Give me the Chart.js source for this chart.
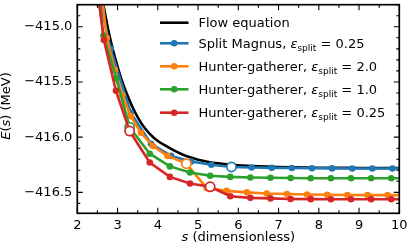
<!DOCTYPE html>
<html>
<head>
<meta charset="utf-8">
<script src="https://cdn.jsdelivr.net/npm/chart.js@4.4.1/dist/chart.umd.min.js"></script>
<style>
html, body { margin: 0; padding: 0; background: #fff; }
#wrap { width: 408px; height: 252px; }
</style>
</head>
<body>
<div id="wrap"><canvas id="chart" width="408" height="252"></canvas></div>
<script>
// flow equation (smooth reference curve)
var flowS = [2.5, 2.6, 2.7, 2.8, 2.9, 3.0, 3.1, 3.2, 3.4, 3.6, 3.8, 4.0, 4.2, 4.4, 4.6, 4.8, 5.0, 5.2, 5.5, 6.0, 6.5, 7.0, 8.0, 9.0, 10.0];
var flowE = [-414.52, -414.71, -414.90, -415.08, -415.23, -415.36, -415.48, -415.58, -415.75, -415.88, -415.97, -416.035, -416.08, -416.12, -416.155, -416.182, -416.204, -416.22, -416.238, -416.255, -416.265, -416.271, -416.277, -416.279, -416.28];

// split Magnus, eps = 0.25
var magS = [2.33, 2.83, 3.33, 3.83, 4.33, 4.83, 5.33, 5.83, 6.33, 6.83, 7.33, 7.83, 8.33, 8.83, 9.33, 9.83, 10.33];
var magE = [-414.40, -415.20, -415.78, -416.06, -416.17, -416.22, -416.25, -416.27, -416.275, -416.278, -416.28, -416.282, -416.283, -416.284, -416.284, -416.284, -416.284];
var magOpen = [5.83];

// hunter-gatherer, eps = 2.0
var hg2S = [2.5, 2.73, 2.93, 3.12, 3.33, 3.58, 3.88, 4.24, 4.71, 5.21, 5.71, 6.21, 6.71, 7.21, 7.71, 8.21, 8.71, 9.21, 9.71, 10.21];
var hg2E = [-414.35, -415.10, -415.39, -415.62, -415.81, -415.96, -416.08, -416.17, -416.24, -416.46, -416.487, -416.50, -416.51, -416.515, -416.52, -416.522, -416.524, -416.525, -416.525, -416.525];
var hg2Open = [4.71];

// hunter-gatherer, eps = 1.0
var hg1S = [2.35, 2.65, 2.97, 3.3, 3.8, 4.3, 4.8, 5.3, 5.8, 6.3, 6.8, 7.3, 7.8, 8.3, 8.8, 9.3, 9.8, 10.3];
var hg1E = [-414.25, -415.08, -415.47, -415.91, -416.15, -416.265, -416.32, -416.35, -416.36, -416.365, -416.368, -416.37, -416.372, -416.373, -416.373, -416.373, -416.373, -416.373];
var hg1Open = [3.3];

// hunter-gatherer, eps = 0.25
var hg025S = [2.36, 2.66, 2.96, 3.3, 3.8, 4.3, 4.8, 5.3, 5.8, 6.3, 6.8, 7.3, 7.8, 8.3, 8.8, 9.3, 9.8, 10.3];
var hg025E = [-414.25, -415.12, -415.58, -415.945, -416.23, -416.36, -416.42, -416.45, -416.535, -416.55, -416.555, -416.56, -416.562, -416.563, -416.563, -416.563, -416.563, -416.563];
var hg025Open = [3.3, 5.3];

var seriesNames = ['Flow equation', 'Split Magnus, ', 'Hunter-gatherer, ', 'Hunter-gatherer, ', 'Hunter-gatherer, '];
var epsLabels = [null, '0.25', '2.0', '1.0', '0.25'];
var colors = ['#000000', '#1f77b4', '#ff7f0e', '#2ca02c', '#d62728'];

var xTicks = [2, 3, 4, 5, 6, 7, 8, 9, 10];
var yTicks = [-416.5, -416.0, -415.5, -415.0];

var FONT = '"DejaVu Sans", sans-serif';

function pts(s, e) {
	return s.map(function(v, i) { return { x: v, y: e[i] }; });
}

function isOpen(c, list) {
	return c.raw && list.indexOf(c.raw.x) >= 0;
}

function series(i, s, e, openList) {
	var color = colors[i];
	return {
		label: seriesNames[i] + (epsLabels[i] ? 'εsplit = ' + epsLabels[i] : ''),
		data: pts(s, e),
		borderColor: color,
		borderWidth: 2.6,
		order: 5 - i,
		pointRadius: function(c) { return isOpen(c, openList) ? 4.6 : 3.3; },
		pointBackgroundColor: function(c) { return isOpen(c, openList) ? '#fff' : color; },
		pointBorderColor: color,
		pointBorderWidth: function(c) { return isOpen(c, openList) ? 1.7 : 0; }
	};
}

// text pieces: [text, style] where style is '', 'i' or 'sub'
function richWidth(ctx, parts) {
	var w = 0;
	parts.forEach(function(p) {
		ctx.font = (p[1] === 'i' ? 'italic ' : '') + (p[1] === 'sub' ? 9 : 13) + 'px ' + FONT;
		w += ctx.measureText(p[0]).width;
	});
	return w;
}

function rich(ctx, parts, x, y) {
	var cx = x;
	parts.forEach(function(p) {
		ctx.font = (p[1] === 'i' ? 'italic ' : '') + (p[1] === 'sub' ? 9 : 13) + 'px ' + FONT;
		ctx.fillText(p[0], cx, y + (p[1] === 'sub' ? 3 : 0));
		cx += ctx.measureText(p[0]).width;
	});
}

function noPad(s) {
	s.paddingTop = 0;
	s.paddingBottom = 0;
	s.paddingLeft = 0;
	s.paddingRight = 0;
}

var framePlugin = {
	id: 'frame',
	afterDatasetsDraw: function(chart) {
		var ctx = chart.ctx;
		var a = chart.chartArea;
		var xs = chart.scales.x, ys = chart.scales.y;
		ctx.save();
		ctx.strokeStyle = '#000';
		ctx.lineWidth = 1.1;
		ctx.beginPath();
		for (var k = 0; k <= 16; k++) {
			var xv = 2 + k * 0.5;
			var len = (k % 2 === 0) ? 5.5 : 3;
			var px = xs.getPixelForValue(xv);
			ctx.moveTo(px, a.bottom); ctx.lineTo(px, a.bottom - len);
			ctx.moveTo(px, a.top); ctx.lineTo(px, a.top + len);
		}
		for (var j = 0; j <= 18; j++) {
			var yv = -416.6 + j * 0.1;
			if (yv > -414.8 + 1e-6) { continue; }
			var major = Math.abs(yv * 2 - Math.round(yv * 2)) < 1e-6;
			var l2 = major ? 5.5 : 3;
			var py = ys.getPixelForValue(yv);
			ctx.moveTo(a.left, py); ctx.lineTo(a.left + l2, py);
			ctx.moveTo(a.right, py); ctx.lineTo(a.right - l2, py);
		}
		ctx.stroke();
		ctx.lineWidth = 1.7;
		ctx.strokeRect(a.left, a.top, a.right - a.left, a.bottom - a.top);
		ctx.restore();
	},
	afterDraw: function(chart) {
		var ctx = chart.ctx;
		var a = chart.chartArea;
		ctx.save();
		ctx.fillStyle = '#000';
		ctx.textBaseline = 'alphabetic';

		// x axis title
		var xt = [['s', 'i'], [' (dimensionless)', '']];
		var w = richWidth(ctx, xt);
		rich(ctx, xt, (a.left + a.right) / 2 - w / 2, 241);

		// y axis title
		var yt = [['E', 'i'], ['(', ''], ['s', 'i'], [')', ''], [' (MeV)', '']];
		var wy = richWidth(ctx, yt);
		ctx.save();
		ctx.translate(10, (a.top + a.bottom) / 2 - 3);
		ctx.rotate(-Math.PI / 2);
		rich(ctx, yt, -wy / 2, 0);
		ctx.restore();

		// legend
		var rows = [22.7, 43.3, 66.3, 89.3, 112.7];
		for (var i = 0; i < rows.length; i++) {
			var y = rows[i];
			ctx.strokeStyle = colors[i];
			ctx.lineWidth = 2.6;
			ctx.beginPath();
			ctx.moveTo(160, y); ctx.lineTo(188.5, y);
			ctx.stroke();
			if (i > 0) {
				ctx.fillStyle = colors[i];
				ctx.beginPath();
				ctx.arc(174.2, y, 3.3, 0, Math.PI * 2);
				ctx.fill();
			}
			ctx.fillStyle = '#000';
			var parts = [[seriesNames[i], '']];
			if (epsLabels[i]) {
				parts.push(['ε', 'i'], ['split', 'sub'], [' = ' + epsLabels[i], '']);
			}
			rich(ctx, parts, 198.5, y + 4.5);
		}
		ctx.restore();
	}
};

var chart = new Chart(document.getElementById('chart'), {
	type: 'line',
	data: {
		datasets: [
			{
				label: seriesNames[0],
				data: pts(flowS, flowE),
				borderColor: colors[0],
				borderWidth: 2.6,
				cubicInterpolationMode: 'monotone',
				pointRadius: 0,
				order: 5
			},
			series(1, magS, magE, magOpen),
			series(2, hg2S, hg2E, hg2Open),
			series(3, hg1S, hg1E, hg1Open),
			series(4, hg025S, hg025E, hg025Open)
		]
	},
	options: {
		responsive: false,
		devicePixelRatio: 1,
		animation: false,
		layout: { padding: { top: 4.7, right: 8.7, left: 0, bottom: 0 } },
		plugins: {
			legend: { display: false },
			tooltip: { enabled: false }
		},
		scales: {
			x: {
				type: 'linear',
				min: 2,
				max: 10,
				afterBuildTicks: function(s) { s.ticks = xTicks.map(function(v) { return { value: v }; }); },
				ticks: {
					font: { family: FONT, size: 13 },
					color: '#000',
					padding: 5,
					maxRotation: 0,
					autoSkip: false,
					callback: function(v) { return String(v); }
				},
				grid: { display: false, drawTicks: false },
				border: { display: false },
				afterFit: function(s) { s.height = 38.7; noPad(s); }
			},
			y: {
				type: 'linear',
				min: -416.69,
				max: -414.8,
				afterBuildTicks: function(s) { s.ticks = yTicks.map(function(v) { return { value: v }; }); },
				ticks: {
					font: { family: FONT, size: 13 },
					color: '#000',
					padding: 5,
					autoSkip: false,
					callback: function(v) { return (v < 0 ? '\u2212' : '') + Math.abs(v).toFixed(1); }
				},
				grid: { display: false, drawTicks: false },
				border: { display: false },
				afterFit: function(s) { s.width = 77.3; noPad(s); }
			}
		}
	},
	plugins: [framePlugin]
});
</script>
</body>
</html>
